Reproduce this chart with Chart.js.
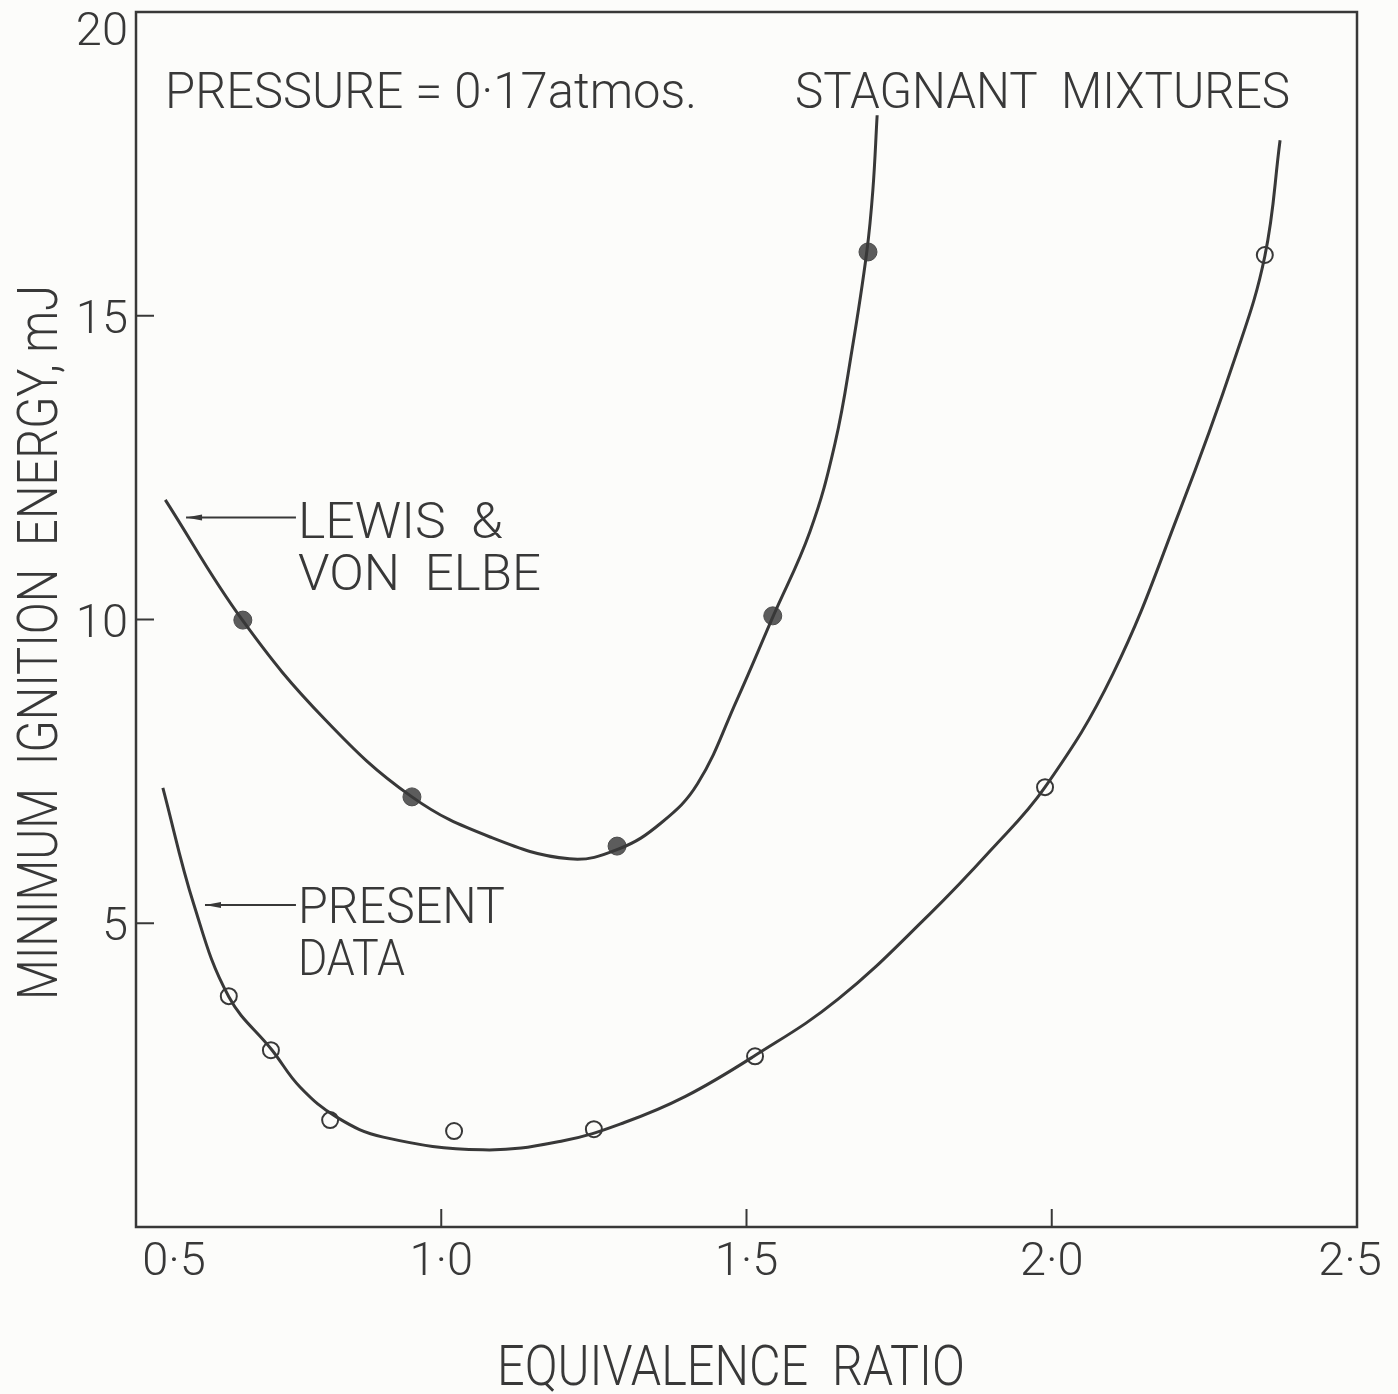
<!DOCTYPE html>
<html lang="en">
<head>
    <meta charset="UTF-8">
    <title>Minimum Ignition Energy</title>
    <style>
        body {
            margin: 0;
            padding: 0;
            background-color: #fcfcfa;
        }

        #wrap {
            width: 1398px;
            height: 1394px;
        }
    </style>
</head>
<body>
    <div id="wrap">
        <canvas id="chartContainer" width="1398" height="1394"></canvas>
    </div>

    <script src="https://cdn.jsdelivr.net/npm/chart.js"></script>
    <script>
        // axis ticks
        const xTicks = [0.5, 1.0, 1.5, 2.0, 2.5];
        const xTickLabels = ['0·5', '1·0', '1·5', '2·0', '2·5'];
        const yTicks = [5, 10, 15, 20];
        const yTickLabels = ['5', '10', '15', '20'];

        // Lewis & von Elbe, measured points (filled)
        const lewisX = [0.675, 0.952, 1.288, 1.543, 1.699];
        const lewisY = [9.99, 7.08, 6.27, 10.06, 16.05];

        // Lewis & von Elbe, faired curve
        const lewisCurveX = [0.548, 0.675, 0.810, 0.952, 1.080, 1.210, 1.290, 1.360, 1.420, 1.484, 1.543, 1.604, 1.645, 1.673, 1.697, 1.707, 1.714];
        const lewisCurveY = [11.97, 9.98, 8.35, 7.08, 6.42, 6.06, 6.22, 6.65, 7.30, 8.67, 10.04, 11.45, 12.90, 14.45, 16.05, 17.07, 18.30];

        // present data, measured points (open)
        const presentX = [0.652, 0.721, 0.818, 1.021, 1.250, 1.514, 1.989, 2.349];
        const presentY = [3.80, 2.91, 1.76, 1.58, 1.61, 2.81, 7.24, 16.00];

        // present data, faired curve
        const presentCurveX = [0.544, 0.595, 0.652, 0.723, 0.769, 0.830, 0.905, 1.068, 1.200, 1.300, 1.400, 1.512, 1.650, 1.800, 1.900, 1.989, 2.100, 2.210, 2.300, 2.349, 2.374];
        const presentCurveY = [7.23, 5.30, 3.79, 2.91, 2.30, 1.80, 1.48, 1.27, 1.42, 1.72, 2.15, 2.81, 3.75, 5.15, 6.20, 7.24, 9.10, 11.80, 14.30, 15.98, 17.89];

        const ink = '#383838';
        const font = 'Roboto, "Liberation Sans", sans-serif';

        const toPoints = (xs, ys) => xs.map((x, i) => ({ x: x, y: ys[i] }));

        // draw text squeezed or stretched to a given width
        function fitText(ctx, text, x, y, width) {
            const w = ctx.measureText(text).width;
            ctx.save();
            ctx.translate(x, y);
            ctx.scale(width / w, 1);
            ctx.textAlign = 'left';
            ctx.fillText(text, 0, 0);
            ctx.restore();
        }

        // frame, inward ticks, tick labels and the text on the plot
        const decor = {
            id: 'decor',
            afterDatasetsDraw(chart) {
                const ctx = chart.ctx;
                const a = chart.chartArea;
                const xs = chart.scales.x;
                const ys = chart.scales.y;
                ctx.save();
                ctx.strokeStyle = ink;
                ctx.fillStyle = ink;
                ctx.lineWidth = 2.5;
                ctx.strokeRect(a.left, a.top, a.right - a.left, a.bottom - a.top);

                // ticks
                ctx.lineWidth = 2;
                ctx.beginPath();
                xTicks.forEach(v => {
                    if (v === xs.min || v === xs.max) return;
                    const px = xs.getPixelForValue(v);
                    ctx.moveTo(px, a.bottom);
                    ctx.lineTo(px, a.bottom - 18);
                });
                yTicks.forEach(v => {
                    if (v === ys.max) return;
                    const py = ys.getPixelForValue(v);
                    ctx.moveTo(a.left, py);
                    ctx.lineTo(a.left + 18, py);
                });
                ctx.stroke();

                // tick labels
                ctx.font = '300 47px ' + font;
                ctx.textAlign = 'center';
                ctx.textBaseline = 'alphabetic';
                xTicks.forEach((v, i) => {
                    let px = xs.getPixelForValue(v);
                    if (i === 0) px += 38;
                    if (i === xTicks.length - 1) px -= 7;
                    ctx.fillText(xTickLabels[i], px, a.bottom + 48);
                });
                ctx.textAlign = 'right';
                yTicks.forEach((v, i) => {
                    let py = ys.getPixelForValue(v);
                    if (v === ys.max) py += 16;
                    ctx.fillText(yTickLabels[i], a.left - 8, py + 17);
                });

                // axis titles
                ctx.font = '300 56px ' + font;
                fitText(ctx, 'EQUIVALENCE  RATIO', 497, 1385, 468);
                ctx.save();
                ctx.translate(57, 1000);
                ctx.rotate(-Math.PI / 2);
                fitText(ctx, 'MINIMUM  IGNITION  ENERGY, mJ', 0, 0, 715);
                ctx.restore();

                // notes
                ctx.font = '300 50px ' + font;
                fitText(ctx, 'PRESSURE = 0·17atmos.', 165, 108, 532);
                fitText(ctx, 'STAGNANT  MIXTURES', 795, 108, 495);
                fitText(ctx, 'LEWIS  &', 298, 538, 205);
                fitText(ctx, 'VON  ELBE', 298, 590, 243);
                fitText(ctx, 'PRESENT', 298, 923, 207);
                fitText(ctx, 'DATA', 298, 975, 107);

                // leader arrows
                const arrow = (x0, x1, y) => {
                    const p0 = xs.getPixelForValue(x0);
                    const p1 = xs.getPixelForValue(x1);
                    const py = ys.getPixelForValue(y);
                    ctx.lineWidth = 2;
                    ctx.beginPath();
                    ctx.moveTo(p0, py);
                    ctx.lineTo(p1, py);
                    ctx.stroke();
                    ctx.beginPath();
                    ctx.moveTo(p0, py);
                    ctx.lineTo(p0 + 16, py - 3);
                    ctx.lineTo(p0 + 16, py + 3);
                    ctx.closePath();
                    ctx.fill();
                };
                arrow(0.582, 0.762, 11.68);
                arrow(0.613, 0.762, 5.3);
                ctx.restore();
            }
        };

        const ctx = document.getElementById('chartContainer').getContext('2d');
        const chart = new Chart(ctx, {
            type: 'scatter',
            data: {
                datasets: [
                    {
                        label: 'Lewis & von Elbe curve',
                        data: toPoints(lewisCurveX, lewisCurveY),
                        showLine: true,
                        borderColor: ink,
                        borderWidth: 3,
                        pointRadius: 0,
                        tension: 0.4
                    },
                    {
                        label: 'Present data curve',
                        data: toPoints(presentCurveX, presentCurveY),
                        showLine: true,
                        borderColor: ink,
                        borderWidth: 3,
                        pointRadius: 0,
                        tension: 0.4
                    },
                    {
                        label: 'Lewis & von Elbe',
                        data: toPoints(lewisX, lewisY),
                        pointRadius: 9,
                        pointBackgroundColor: '#5c5c5c',
                        pointBorderColor: '#4a4a4a',
                        pointBorderWidth: 1
                    },
                    {
                        label: 'Present data',
                        data: toPoints(presentX, presentY),
                        pointRadius: 8,
                        pointBackgroundColor: '#fcfcfa',
                        pointBorderColor: ink,
                        pointBorderWidth: 2
                    }
                ]
            },
            options: {
                responsive: false,
                animation: false,
                layout: {
                    padding: { left: 136, right: 41, top: 12, bottom: 167 }
                },
                plugins: {
                    legend: { display: false },
                    tooltip: { enabled: false }
                },
                scales: {
                    x: { type: 'linear', min: 0.5, max: 2.5, display: false },
                    y: { type: 'linear', min: 0, max: 20, display: false }
                }
            },
            plugins: [decor]
        });
    </script>
</body>
</html>
